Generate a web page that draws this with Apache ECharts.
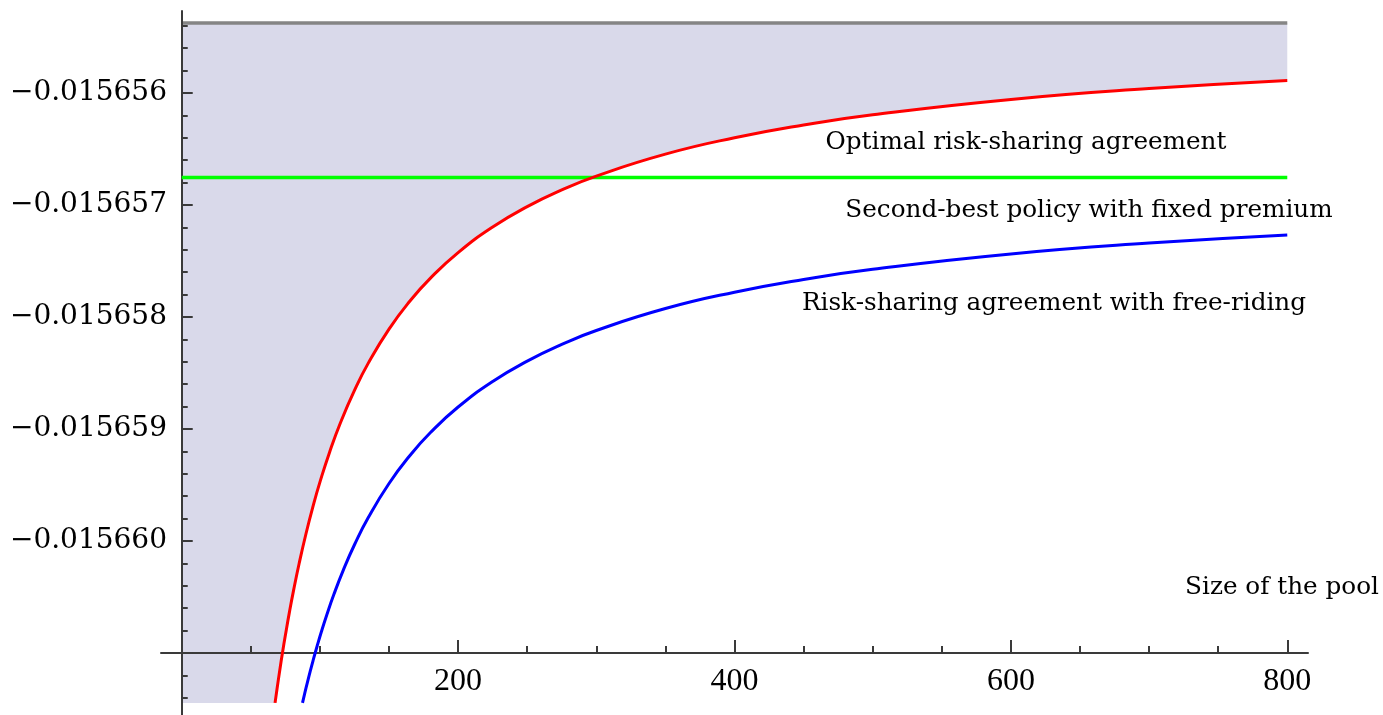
<!DOCTYPE html>
<html>
<head>
<meta charset="utf-8">
<script src="https://cdn.jsdelivr.net/npm/echarts@6/dist/echarts.min.js"></script>
<style>
html,body{margin:0;padding:0;background:#fff;}
#chart{width:1383px;height:715px;}
</style>
</head>
<body>
<div id="chart"></div>
<script>
// Pool size (x) and welfare values (y)
const redN = [67.53, 69, 71, 73, 75, 78, 81, 85, 90, 95, 100, 107, 115, 125, 135, 150, 165, 180, 200, 225, 250, 275, 300, 350, 400, 450, 500, 600, 700, 800];
const redV = [-0.015661446, -0.015661317, -0.015661150, -0.015660991, -0.015660842, -0.015660631, -0.015660437, -0.015660199, -0.015659931, -0.015659691,
              -0.015659475, -0.015659207, -0.015658940, -0.015658655, -0.015658412, -0.015658108, -0.015657860, -0.015657653, -0.015657425, -0.015657197,
              -0.015657015, -0.015656866, -0.015656742, -0.015656546, -0.015656400, -0.015656286, -0.015656195, -0.015656058, -0.015655961, -0.015655888];
const blueN = [87.4, 89, 91, 93, 95, 98, 101, 105, 110, 117, 125, 135, 150, 165, 180, 200, 225, 250, 275, 300, 350, 400, 450, 500, 600, 700, 800];
const blueV = [-0.015661445, -0.015661361, -0.015661260, -0.015661163, -0.015661070, -0.015660938, -0.015660813, -0.015660659, -0.015660481, -0.015660258,
               -0.015660034, -0.015659791, -0.015659487, -0.015659239, -0.015659032, -0.015658804, -0.015658576, -0.015658394, -0.015658245, -0.015658121,
               -0.015657925, -0.015657779, -0.015657665, -0.015657574, -0.015657437, -0.015657340, -0.015657267];
const lineN = [0, 800];
const greenV = -0.015656754;     // second-best policy with fixed premium
const topV = -0.015655375;       // upper bound (grey line)
const plotBottom = -0.015661446; // lower edge of the plotted region

const xMajorTicks = [200, 400, 600, 800];
const xMinorTicks = [50, 100, 150, 250, 300, 350, 450, 500, 550, 650, 700, 750];
const yMajorTicks = [-0.015656, -0.015657, -0.015658, -0.015659, -0.015660, -0.015661];
const yLabelTicks = [-0.015656, -0.015657, -0.015658, -0.015659, -0.015660];
const yMinorTicks = [];
for (let i = 0; i <= 30; i++) {
  const k = 156554 + 2 * i;
  if (k % 10 !== 0) yMinorTicks.push(-k / 1e7);
}

const annotations = [
  { text: 'Optimal risk-sharing agreement', x: 1026, y: 143 },
  { text: 'Second-best policy with fixed premium', x: 1089, y: 211 },
  { text: 'Risk-sharing agreement with free-riding', x: 1054, y: 304 },
  { text: 'Size of the pool', x: 1282, y: 588 }
];

const redData = redN.map((n, i) => [n, redV[i]]);
const blueData = blueN.map((n, i) => [n, blueV[i]]);
const shadeData = [[0, plotBottom]].concat(redData);

const X_MIN = -15, X_MAX = 815;
const Y_MIN = -0.015661554, Y_MAX = -0.015655268;
const axisColor = '#3a3a3a';

const chart = echarts.init(document.getElementById('chart'), null, { renderer: 'canvas' });
chart.setOption({
  animation: false,
  backgroundColor: '#ffffff',
  grid: { left: 161, right: 75, top: 11, bottom: 0, containLabel: false },
  xAxis: [
    {
      type: 'value', min: X_MIN, max: X_MAX, position: 'bottom', offset: -62, z: 3,
      axisLine: { show: true, onZero: false, lineStyle: { color: axisColor, width: 2 } },
      axisTick: { show: true, inside: true, length: 13, customValues: xMajorTicks, lineStyle: { color: axisColor, width: 2 } },
      axisLabel: { show: true, customValues: xMajorTicks, margin: 13, color: '#000', fontFamily: 'Liberation Serif', fontSize: 32 },
      splitLine: { show: false }
    },
    {
      type: 'value', min: X_MIN, max: X_MAX, position: 'bottom', offset: -62, z: 3,
      axisLine: { show: false, onZero: false },
      axisTick: { show: true, inside: true, length: 7, customValues: xMinorTicks, lineStyle: { color: axisColor, width: 2 } },
      axisLabel: { show: false },
      splitLine: { show: false }
    }
  ],
  yAxis: [
    {
      type: 'value', min: Y_MIN, max: Y_MAX, position: 'left', z: 3,
      axisLine: { show: true, onZero: true, lineStyle: { color: axisColor, width: 2 } },
      axisTick: { show: true, inside: true, length: 11, customValues: yMajorTicks, lineStyle: { color: axisColor, width: 2 } },
      axisLabel: {
        show: true, customValues: yLabelTicks, margin: -6, color: '#000', fontFamily: 'DejaVu Serif', fontSize: 28,
        formatter: v => '\u2212' + Math.abs(v).toFixed(6)
      },
      splitLine: { show: false }
    },
    {
      type: 'value', min: Y_MIN, max: Y_MAX, position: 'left', z: 3,
      axisLine: { show: false, onZero: true },
      axisTick: { show: true, inside: true, length: 6, customValues: yMinorTicks, lineStyle: { color: axisColor, width: 2 } },
      axisLabel: { show: false },
      splitLine: { show: false }
    }
  ],
  series: [
    {
      name: 'region', type: 'line', data: shadeData, showSymbol: false, silent: true, z: 1,
      lineStyle: { width: 0, opacity: 0 },
      areaStyle: { color: '#d9d9ea', opacity: 1, origin: topV }
    },
    {
      name: 'upper', type: 'line', data: lineN.map(n => [n, topV]), showSymbol: false, silent: true, z: 2,
      lineStyle: { color: '#858585', width: 3.5 }
    },
    {
      name: 'Second-best policy with fixed premium', type: 'line', data: lineN.map(n => [n, greenV]), showSymbol: false, silent: true, z: 4,
      lineStyle: { color: '#00ff00', width: 3.5 }
    },
    {
      name: 'Risk-sharing agreement with free-riding', type: 'line', data: blueData, showSymbol: false, smooth: true, silent: true, z: 5,
      lineStyle: { color: '#0000ff', width: 3 }
    },
    {
      name: 'Optimal risk-sharing agreement', type: 'line', data: redData, showSymbol: false, smooth: true, silent: true, z: 6,
      lineStyle: { color: '#ff0000', width: 3 }
    }
  ],
  graphic: annotations.map(a => ({
    type: 'text', x: a.x, y: a.y, silent: true, z: 10,
    style: { text: a.text, fill: '#000', font: '24.7px "DejaVu Serif"', align: 'center', verticalAlign: 'middle', textAlign: 'center', textVerticalAlign: 'middle' }
  }))
});
</script>
</body>
</html>
